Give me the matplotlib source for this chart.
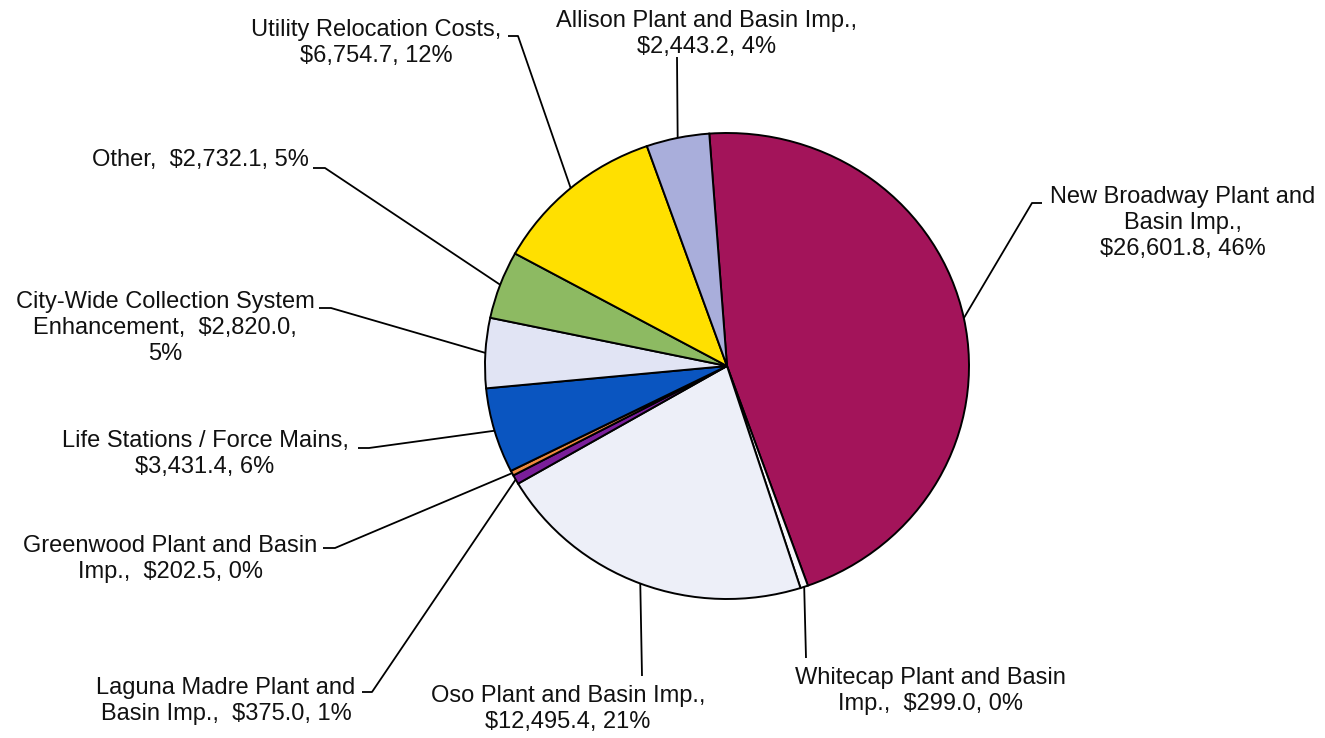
import matplotlib
matplotlib.use("Agg")
import matplotlib.pyplot as plt
import numpy as np

categories = ["New Broadway Plant and Basin Imp.", "Whitecap Plant and Basin Imp.",
              "Oso Plant and Basin Imp.", "Laguna Madre Plant and Basin Imp.",
              "Greenwood Plant and Basin Imp.", "Life Stations / Force Mains",
              "City-Wide Collection System Enhancement", "Other",
              "Utility Relocation Costs", "Allison Plant and Basin Imp."]
values = [26601.8, 299.0, 12495.4, 375.0, 202.5, 3431.4, 2820.0, 2732.1, 6754.7, 2443.2]
percents = [46, 0, 21, 1, 0, 6, 5, 5, 12, 4]
colors = ["#A3145A", "#F8F8FC", "#EDEFF8", "#7A1E9A", "#F08A40", "#0A55C0",
          "#E1E4F4", "#8DBA62", "#FFE000", "#A9AEDB"]

label_texts = [
    "New Broadway Plant and\nBasin Imp.,\n$26,601.8, 46%",
    "Whitecap Plant and Basin\nImp.,  $299.0, 0%",
    "Oso Plant and Basin Imp.,\n$12,495.4, 21%",
    "Laguna Madre Plant and\nBasin Imp.,  $375.0, 1%",
    "Greenwood Plant and Basin\nImp.,  $202.5, 0%",
    "Life Stations / Force Mains,\n$3,431.4, 6%",
    "City-Wide Collection System\nEnhancement,  $2,820.0,\n5%",
    "Other,  $2,732.1, 5%",
    "Utility Relocation Costs,\n$6,754.7, 12%",
    "Allison Plant and Basin Imp.,\n$2,443.2, 4%",
]
# text centres (image pixels) and leader hook points
text_pos = [(1183, 223), (930, 691), (568, 709), (226, 701), (170, 559),
            (205, 454), (165, 328), (200, 160), (376, 43), (707, 34)]
hooks = [[(1042, 203), (1032, 203)], [(806, 658)], [(642, 676)],
         [(362, 692), (372, 692)], [(323, 548), (335, 548)],
         [(358, 448), (369, 448)], [(319, 308), (331, 308)],
         [(313, 168), (325, 168)], [(508, 36), (518, 36)], [(677, 57)]]

W, H = 1325, 738
fig = plt.figure(figsize=(W / 100, H / 100), dpi=100)
fig.patch.set_facecolor("white")

cx, cy, rx, ry = 727, 366, 242, 233
ax = fig.add_axes([(cx - rx) / W, (H - cy - ry) / H, 2 * rx / W, 2 * ry / H])
wedges, _ = ax.pie(values, colors=colors, startangle=94.2, counterclock=False,
                   wedgeprops=dict(edgecolor="black", linewidth=1.4))
ax.set_xlim(-1, 1)
ax.set_ylim(-1, 1)
ax.set_aspect("auto")
ax.axis("off")

ov = fig.add_axes([0, 0, 1, 1], zorder=5)
ov.set_xlim(0, W)
ov.set_ylim(H, 0)
ov.axis("off")
ov.patch.set_alpha(0)

fam = ["Liberation Sans", "DejaVu Sans"]
for w, txt, tp, hk in zip(wedges, label_texts, text_pos, hooks):
    ang = np.deg2rad((w.theta1 + w.theta2) / 2)
    px, py = np.cos(ang), np.sin(ang)
    disp = ax.transData.transform((px, py))
    ex, ey = ov.transData.inverted().transform(disp)
    pts = hk + [(ex, ey)]
    xs = [p[0] for p in pts]
    ys = [p[1] for p in pts]
    ov.plot(xs, ys, color="black", lw=1.3, solid_capstyle="butt")
    ov.text(tp[0], tp[1], txt, ha="center", va="center", multialignment="center",
            fontsize=17, family=fam, linespacing=1.22, color="#111111")

fig.savefig("out.png", dpi=100)
